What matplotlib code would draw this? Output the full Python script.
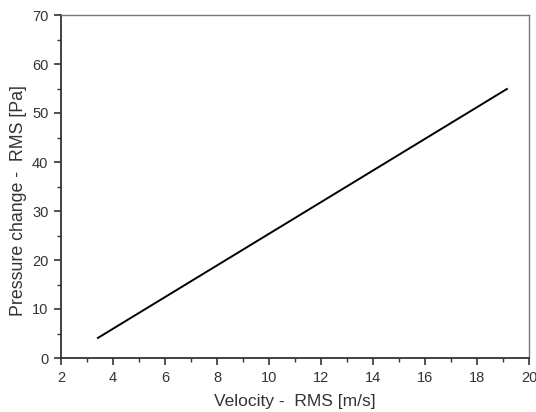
import matplotlib
matplotlib.use('Agg')
import matplotlib.pyplot as plt
from matplotlib.ticker import MultipleLocator

plt.rcParams.update({
    'font.family': ['Liberation Sans', 'DejaVu Sans'],
    'font.size': 10,
})

# velocity RMS [m/s] vs pressure change RMS [Pa]
velocity = [3.42, 19.15]
pressure = [4.1, 54.9]

fig = plt.figure(figsize=(5.36, 4.12), dpi=100)
ax = fig.add_axes([61/536, (412-358)/412, 468/536, 343/412])

ax.plot(velocity, pressure, color='black', linewidth=1.4)

ax.set_xlim(2, 20)
ax.set_ylim(0, 70)
ax.xaxis.set_major_locator(MultipleLocator(2))
ax.xaxis.set_minor_locator(MultipleLocator(1))
ax.yaxis.set_major_locator(MultipleLocator(10))
ax.yaxis.set_minor_locator(MultipleLocator(5))
ax.tick_params(which='major', direction='out', length=5, width=1.2,
               colors='#333333', labelsize=10.5, pad=4)
ax.tick_params(which='minor', direction='out', length=3, width=1.0, colors='#333333')

for s in ('left', 'bottom'):
    ax.spines[s].set_linewidth(1.3)
    ax.spines[s].set_color('#333333')
for s in ('top', 'right'):
    ax.spines[s].set_linewidth(1.0)
    ax.spines[s].set_color('#777777')

ax.set_xlabel('Velocity -  RMS [m/s]', fontsize=12.5, color='#333333', labelpad=7)
ax.set_ylabel('Pressure change -  RMS [Pa]', fontsize=12.8, color='#333333')
ax.yaxis.set_label_coords(-0.073, 0.46)

fig.savefig('out.png', dpi=100)
